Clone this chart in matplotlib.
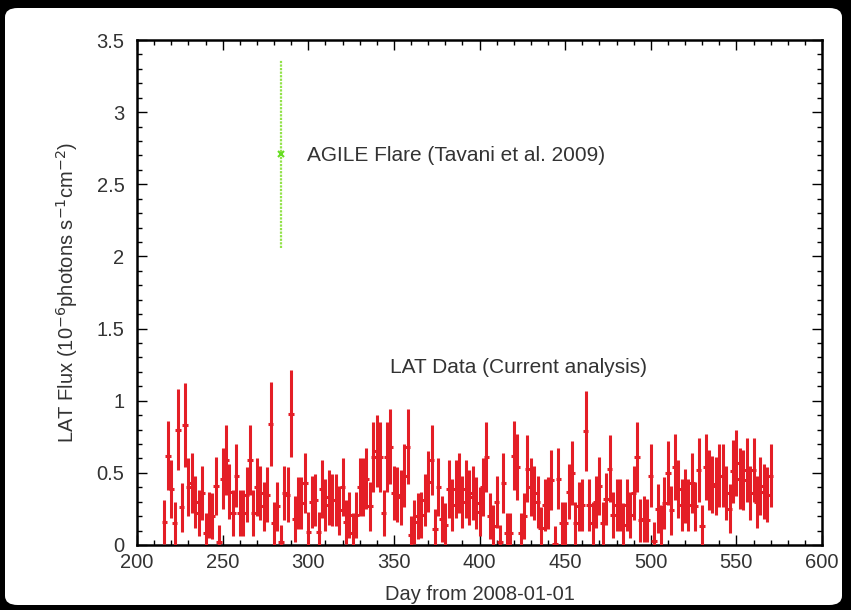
import matplotlib
matplotlib.use("Agg")
import matplotlib.pyplot as plt
from matplotlib.patches import FancyBboxPatch
from matplotlib.ticker import MultipleLocator

plt.rcParams['font.family'] = ['Liberation Sans', 'DejaVu Sans']

# LAT light curve, 2-day bins (day from 2008-01-01)
lat_day = [
    216, 218, 220, 222, 224, 226, 228, 230, 232, 234, 236, 238, 240, 242, 244, 246,
    248, 250, 252, 254, 256, 258, 260, 262, 264, 266, 268, 270, 272, 274, 276, 278,
    280, 282, 284, 286, 288, 290, 292, 294, 296, 298, 300, 302, 304, 306, 308, 310,
    312, 314, 316, 318, 320, 322, 324, 326, 328, 330, 332, 334, 336, 338, 340, 342,
    344, 346, 348, 350, 352, 354, 356, 358, 360, 362, 364, 366, 368, 370, 372, 374,
    376, 378, 380, 382, 384, 386, 388, 390, 392, 394, 396, 398, 400, 402, 404, 406,
    408, 410, 412, 414, 416, 418, 420, 422, 424, 426, 428, 430, 432, 434, 436, 438,
    440, 442, 444, 446, 448, 450, 452, 454, 456, 458, 460, 462, 464, 466, 468, 470,
    472, 474, 476, 478, 480, 482, 484, 486, 488, 490, 492, 494, 496, 498, 500, 502,
    504, 506, 508, 510, 512, 514, 516, 518, 520, 522, 524, 526, 528, 530, 532, 534,
    536, 538, 540, 542, 544, 546, 548, 550, 552, 554, 556, 558, 560, 562, 564, 566,
    568, 570,
]
lat_flux = [
    0.16, 0.62, 0.39, 0.15, 0.80, 0.26, 0.83, 0.40, 0.43, 0.30, 0.22, 0.36, 0.08, 0.21, 0.20, 0.41,
    0.02, 0.46, 0.59, 0.37, 0.22, 0.48, 0.22, 0.22, 0.35, 0.59, 0.22, 0.40, 0.36, 0.27, 0.35, 0.84,
    0.15, 0.27, 0.02, 0.36, 0.35, 0.91, 0.18, 0.29, 0.29, 0.43, 0.09, 0.30, 0.31, 0.09, 0.39, 0.28,
    0.33, 0.31, 0.31, 0.24, 0.40, 0.16, 0.21, 0.08, 0.21, 0.40, 0.40, 0.46, 0.27, 0.61, 0.65, 0.61,
    0.22, 0.61, 0.68, 0.36, 0.35, 0.33, 0.48, 0.68, 0.07, 0.16, 0.20, 0.21, 0.31, 0.44, 0.59, 0.11,
    0.40, 0.18, 0.14, 0.39, 0.28, 0.39, 0.43, 0.30, 0.39, 0.33, 0.36, 0.29, 0.23, 0.40, 0.61, 0.20,
    0.13, 0.30, 0.02, 0.43, 0.08, 0.08, 0.62, 0.54, 0.08, 0.20, 0.53, 0.40, 0.36, 0.30, 0.12, 0.28,
    0.29, 0.45, 0.01, 0.46, 0.15, 0.15, 0.37, 0.50, 0.15, 0.27, 0.28, 0.79, 0.28, 0.15, 0.30, 0.41,
    0.15, 0.32, 0.53, 0.21, 0.28, 0.28, 0.14, 0.28, 0.21, 0.36, 0.61, 0.17, 0.18, 0.17, 0.48, 0.03,
    0.25, 0.13, 0.29, 0.50, 0.24, 0.54, 0.39, 0.28, 0.34, 0.28, 0.43, 0.27, 0.52, 0.13, 0.54, 0.45,
    0.42, 0.41, 0.48, 0.48, 0.36, 0.25, 0.51, 0.57, 0.46, 0.45, 0.52, 0.36, 0.52, 0.30, 0.41, 0.37,
    0.35, 0.48,
]
lat_err = [
    0.15, 0.24, 0.20, 0.15, 0.28, 0.17, 0.29, 0.20, 0.21, 0.18, 0.16, 0.19, 0.14, 0.16, 0.16, 0.20,
    0.12, 0.21, 0.24, 0.19, 0.16, 0.22, 0.16, 0.16, 0.19, 0.24, 0.16, 0.20, 0.19, 0.17, 0.19, 0.29,
    0.15, 0.17, 0.12, 0.19, 0.19, 0.30, 0.16, 0.18, 0.18, 0.21, 0.14, 0.18, 0.18, 0.14, 0.20, 0.18,
    0.19, 0.18, 0.18, 0.17, 0.20, 0.15, 0.16, 0.14, 0.16, 0.20, 0.20, 0.21, 0.17, 0.24, 0.25, 0.24,
    0.16, 0.24, 0.26, 0.19, 0.19, 0.19, 0.22, 0.26, 0.13, 0.15, 0.16, 0.16, 0.18, 0.21, 0.24, 0.14,
    0.20, 0.16, 0.15, 0.20, 0.18, 0.20, 0.21, 0.18, 0.20, 0.19, 0.19, 0.18, 0.17, 0.20, 0.24, 0.16,
    0.15, 0.18, 0.12, 0.21, 0.14, 0.14, 0.24, 0.23, 0.14, 0.16, 0.23, 0.20, 0.19, 0.18, 0.14, 0.18,
    0.18, 0.21, 0.12, 0.21, 0.15, 0.15, 0.19, 0.22, 0.15, 0.17, 0.18, 0.28, 0.18, 0.15, 0.18, 0.20,
    0.15, 0.18, 0.23, 0.16, 0.18, 0.18, 0.15, 0.18, 0.16, 0.19, 0.24, 0.15, 0.16, 0.15, 0.22, 0.13,
    0.17, 0.15, 0.18, 0.22, 0.17, 0.23, 0.20, 0.18, 0.19, 0.18, 0.21, 0.17, 0.22, 0.15, 0.23, 0.21,
    0.20, 0.20, 0.22, 0.22, 0.19, 0.17, 0.22, 0.23, 0.21, 0.21, 0.22, 0.19, 0.22, 0.18, 0.20, 0.19,
    0.19, 0.22,
]
lat_halfbin = 1.6

# AGILE flare measurement
agile_day = [284]
agile_flux = [2.71]
agile_err = [0.65]

W, H = 851, 610
fig = plt.figure(figsize=(W / 100, H / 100), dpi=100)
fig.patch.set_facecolor('black')

# white rounded page on the black frame
page = FancyBboxPatch((5 / W, 5 / H), (W - 14) / W, (H - 13) / H,
                      boxstyle="round,pad=0,rounding_size=0.015",
                      transform=fig.transFigure, facecolor='white',
                      edgecolor='none', zorder=-10)
fig.patches.append(page)

ax = fig.add_axes([137 / W, 1 - 545 / H, (822 - 137) / W, (545 - 40) / H])
ax.set_zorder(1)
ax.set_facecolor('white')

ax.errorbar(lat_day, lat_flux, yerr=lat_err, xerr=lat_halfbin, fmt='none',
            ecolor='#e41e26', elinewidth=2.2, capsize=0, zorder=3)

agile = ax.errorbar(agile_day, agile_flux, yerr=agile_err, fmt='x',
                    color='#66dd22', ecolor='#92e24a', elinewidth=1.6,
                    markersize=5, mew=1.5, capsize=0, zorder=4)
for seg in agile.lines[2]:
    seg.set_linestyle((0, (1, 0.6)))

text_kw = dict(fontsize=15, color='#333333', va='center', ha='left')
ax.text(299, 2.70, 'AGILE Flare (Tavani et al. 2009)', **text_kw)
ax.text(347.5, 1.23, 'LAT Data (Current analysis)', **text_kw)

ax.set_xlim(200, 600)
ax.set_ylim(0, 3.5)
ax.xaxis.set_major_locator(MultipleLocator(50))
ax.xaxis.set_minor_locator(MultipleLocator(10))
ax.yaxis.set_major_locator(MultipleLocator(0.5))
ax.yaxis.set_minor_locator(MultipleLocator(0.1))
ax.tick_params(which='both', direction='in', top=True, right=True,
               labelsize=14.5, labelcolor='#333333', width=1.0)
ax.tick_params(axis='x', pad=6)
ax.tick_params(axis='y', pad=9)
ax.tick_params(which='major', length=7)
ax.tick_params(which='minor', length=3.5)
for s in ax.spines.values():
    s.set_linewidth(1.8)
ax.yaxis.set_major_formatter(plt.FuncFormatter(lambda v, p: f'{v:g}'))

ax.set_xlabel('Day from 2008-01-01', fontsize=14.5, color='#333333', labelpad=9)
ax.set_ylabel(r'LAT Flux (10$^{-6}$photons s$^{-1}$cm$^{-2}$)', fontsize=14.5,
              color='#333333', labelpad=12)

fig.savefig('out.png', dpi=100, facecolor=fig.get_facecolor())
